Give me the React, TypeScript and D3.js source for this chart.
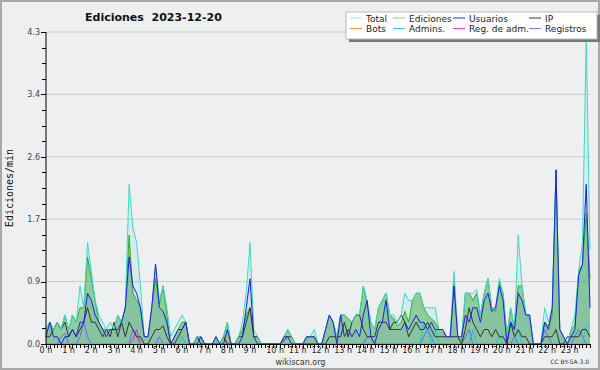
import React from "react";
import * as d3 from "d3";

// ---- data (10-minute bins, 0h .. 24h, edits per minute) ----
const hourLabels = ["0 h","1 h","2 h","3 h","4 h","5 h","6 h","7 h","8 h","9 h","10 h","11 h","12 h","13 h","14 h","15 h","16 h","17 h","18 h","19 h","20 h","21 h","22 h","23 h"];
const yTickLabels = ["0.0", "0.9", "1.7", "2.6", "3.4", "4.3"];
const yMax = 4.3;
const titleText = "Ediciones  2023-12-20";
const yAxisTitle = "Ediciones/min";

const total = [
  .2,.3,.2,.3,.2,.4,.2,.4,.3,.8,.5,1.4,
  1.0,.6,.4,.3,.2,.3,.2,.4,.3,.5,2.2,1.6,
  1.4,.8,.1,.1,.5,1.1,.6,.8,.5,.1,.2,.3,
  .4,.3,0,0,.1,.1,0,0,0,.1,0,.1,
  .3,0,0,.1,.3,.7,1.4,.2,.1,0,0,0,
  0,0,0,.1,.2,.1,0,0,0,.1,.1,.2,
  0,0,.2,.4,.3,.1,.4,.4,.35,.3,.4,.4,
  .8,.6,.3,.2,.5,.6,.7,.4,.4,.3,.4,.7,
  .6,.6,.7,.7,.5,.5,.5,.5,.2,.2,.1,.1,
  1.0,.1,.1,.7,.7,.7,.75,.4,.7,.9,.5,.5,
  .9,.7,.1,.5,.2,1.5,.8,.4,.4,0,0,0,
  .5,.3,.5,2.4,.2,.1,0,.2,.4,1.0,1.4,4.2,1.3,
];
const ediciones = [
  .2,.3,.2,.3,.2,.4,.2,.4,.3,.5,.5,1.2,
  .9,.6,.3,.2,.2,.2,.2,.4,.3,.5,1.5,.7,
  .6,.5,.1,.1,.5,.9,.55,.8,.4,0,.1,.2,
  .3,.3,0,0,.1,.1,0,0,0,.1,0,.1,
  .3,0,0,.1,.2,.4,.5,.1,.1,0,0,0,
  0,0,0,.1,.2,.1,0,0,0,.1,.1,.1,
  0,0,.2,.4,.3,.1,.4,.4,.35,.3,.4,.4,
  .8,.55,.3,.2,.5,.6,.7,.4,.35,.25,.3,.45,
  .3,.6,.7,.7,.5,.4,.35,.3,.2,.2,.1,.1,
  .9,.1,.05,.7,.7,.6,.7,.4,.7,.9,.5,.45,
  .85,.7,.1,.5,.2,.8,.8,.4,.4,0,0,0,
  .3,.25,.4,2.4,.2,.1,0,.2,.25,1.0,1.1,1.8,.9,
];
const usuarios = [
  .1,.3,.1,.1,0,.1,.1,.2,.1,.3,.3,.7,
  .6,.4,.3,.2,.1,.2,.2,.2,.3,.5,1.2,.8,
  .7,.5,.1,.1,.5,1.1,.5,.45,.3,0,.1,.2,
  .2,.3,0,0,0,.1,0,0,0,.1,0,0,
  .2,0,0,0,.1,.5,.9,.1,0,0,0,0,
  0,0,0,.1,.1,0,0,0,0,.1,.1,.1,
  0,0,.2,.4,.3,0,.4,.1,.2,.1,.2,.1,
  .4,.6,.1,0,.2,.3,.6,.2,.2,.2,.2,.3,
  .2,.3,.4,.3,.3,.2,.3,.2,.2,.2,.1,.1,
  .8,.1,.1,.4,.3,.5,.5,.3,.6,.7,.45,.5,
  .8,.6,0,.3,.2,.7,.6,.4,.4,0,0,0,
  .3,.2,.5,2.4,.2,.1,0,.1,.2,.95,1.1,2.2,.5,
];
const ip = [
  .1,.1,.2,.3,.2,.3,.1,.2,.1,.2,.3,.5,
  .3,.3,.2,.1,.2,.1,.3,.1,.3,.1,.3,.2,
  .1,.1,0,0,.1,.2,.2,.25,.1,0,0,.1,
  .2,.3,0,0,.1,0,0,0,0,0,0,.1,
  0,0,0,.1,.1,.3,.5,.1,.1,0,0,0,
  0,0,0,.05,.1,.1,0,0,0,0,0,0,
  0,0,0,.1,.1,.1,.1,.3,.1,.3,.4,.4,
  .2,.1,.1,.1,.3,.3,.3,.2,.3,.3,.4,.3,
  .1,.2,.3,.2,.2,.3,.2,.1,.1,.1,.1,.1,
  .1,.1,0,.2,.5,.3,.2,.1,.2,.2,.1,.2,
  .1,.1,0,.3,.1,.2,.1,.1,0,0,0,0,
  .1,.1,.1,.2,0,0,.1,.1,.1,.1,.2,.2,.1,
];
// sparse series: [bin, value]
const registrosPts: [number, number][] = [[4,.1],[5,.15],[9,.1],[10,.3],[11,.1],[23,.2],[24,.1],[30,.1],[85,.1],[86,.1],[100,.1],[101,.2],[102,.1],[111,.1],[112,.2],[124,.1],[132,.2],[133,.1],[140,.1],[141,.2],[142,.1]];
const adminsPts: [number, number][] = [[36,.1],[100,.3],[101,.2],[103,.2],[113,.2],[120,.1],[125,.2],[143,.25],[144,.25]];
const regAdmPts: [number, number][] = [[23,.05],[24,.2]];
const botsPts: [number, number][] = [[48,.1],[122,.05]];

const N = total.length;
const expand = (pts: [number, number][]) => {
  const a = new Array(N).fill(0);
  pts.forEach(([i, v]) => (a[i] = v));
  return a;
};

const legendItems = [
  { label: "Total", color: "#a8e4e2" },
  { label: "Ediciones", color: "#88cc88" },
  { label: "Usuarios", color: "#3333cc" },
  { label: "IP", color: "#333333" },
  { label: "Bots", color: "#ff9933" },
  { label: "Admins.", color: "#33ccdd" },
  { label: "Reg. de adm.", color: "#dd44dd" },
  { label: "Registros", color: "#7777ff" },
];

export default function App() {
  const W = 600, H = 370;
  const L = 46, R = 590, T = 32, B = 344;
  const x = d3.scaleLinear().domain([0, N - 1]).range([L, R]);
  const y = d3.scaleLinear().domain([0, yMax]).range([B, T]);
  const xh = d3.scaleLinear().domain([0, 24]).range([L, R]);

  const area = d3.area<number>().x((_, i) => x(i)).y0(B).y1((d) => y(d));
  const line = d3.line<number>().x((_, i) => x(i)).y((d) => y(d));

  const registros = expand(registrosPts);
  const admins = expand(adminsPts);
  const regAdm = expand(regAdmPts);
  const bots = expand(botsPts);

  const majorVals = yTickLabels.map((_, i) => (yMax * i) / (yTickLabels.length - 1));
  const minorVals: number[] = [];
  for (let i = 0; i < yTickLabels.length - 1; i++)
    for (let k = 1; k < 4; k++) minorVals.push(majorVals[i] + ((majorVals[i + 1] - majorVals[i]) * k) / 4);
  const xTickVals = d3.range(0, 24 * 6 + 1).map((i) => i / 6);

  const font = "'DejaVu Sans', Verdana, sans-serif";
  const colsX = [350, 393, 453, 529];
  const rowsY = [18, 28.5];

  return (
    <svg width={W} height={H} style={{ position: "fixed", left: 0, top: 0 }} fontFamily={font}>
      <rect x={0} y={0} width={W} height={H} fill="#eeeff0" />
      <rect x={1} y={1} width={W - 2} height={H - 2} fill="none" stroke="#a8a8a8" strokeWidth={2} />

      {/* grid */}
      {majorVals.slice(1).map((v, i) => (
        <line key={i} x1={L} x2={R} y1={y(v)} y2={y(v)} stroke="#cccccc" strokeWidth={1} />
      ))}

      {/* series */}
      <path d={area(total) || ""} fill="rgba(64,224,208,0.15)" />
      <path d={area(ediciones) || ""} fill="rgba(60,170,60,0.45)" />
      <path d={area(usuarios) || ""} fill="rgba(40,40,220,0.06)" />
      <path d={line(registros) || ""} fill="none" stroke="#6666ff" strokeWidth={1} />
      <path d={line(regAdm) || ""} fill="none" stroke="#cc33cc" strokeWidth={1} />
      <path d={line(bots) || ""} fill="none" stroke="#ff9933" strokeWidth={1} />
      <path d={line(admins) || ""} fill="none" stroke="#22c4dd" strokeWidth={1} />
      <path d={line(ediciones) || ""} fill="none" stroke="#33aa33" strokeWidth={1} />
      <path d={line(ip) || ""} fill="none" stroke="#333333" strokeWidth={1} />
      <path d={line(total) || ""} fill="none" stroke="#40d8c8" strokeWidth={1} />
      <path d={line(usuarios) || ""} fill="none" stroke="#1f1fdd" strokeWidth={1} />

      {/* axes */}
      <line x1={L} x2={L} y1={T} y2={B} stroke="#000" strokeWidth={1} />
      <line x1={L} x2={R} y1={B + 0.5} y2={B + 0.5} stroke="#000" strokeWidth={1} />
      {majorVals.map((v, i) => (
        <g key={"ym" + i}>
          <line x1={L - 5} x2={L} y1={Math.round(y(v)) + 0.5} y2={Math.round(y(v)) + 0.5} stroke="#000" />
          <text x={L - 6} y={y(v)} dy="0.35em" textAnchor="end" fontSize={8} fill="#444">{yTickLabels[i]}</text>
        </g>
      ))}
      {minorVals.map((v, i) => (
        <line key={"yn" + i} x1={L - 4} x2={L} y1={Math.round(y(v)) + 0.5} y2={Math.round(y(v)) + 0.5} stroke="#000" />
      ))}
      {xTickVals.map((v, i) => (
        <line key={"xt" + i} x1={Math.round(xh(v)) + 0.5} x2={Math.round(xh(v)) + 0.5} y1={B} y2={B + 4} stroke="#000" />
      ))}
      {hourLabels.map((lab, i) => (
        <text key={"xl" + i} x={xh(i) - 6.5} y={353} fontSize={8} fill="#222" style={{ whiteSpace: "pre" }}>{lab}</text>
      ))}

      {/* titles */}
      <text x={85} y={21} fontSize={11} fontWeight="bold" fill="#111" style={{ whiteSpace: "pre" }}>{titleText}</text>
      <text transform={`translate(13,188) rotate(-90)`} textAnchor="middle" fontSize={10} fontFamily="'DejaVu Sans Mono', monospace" fill="#111">{yAxisTitle}</text>
      <text x={300.5} y={365} textAnchor="middle" fontSize={8} fill="#333">wikiscan.org</text>
      <text x={589} y={364} textAnchor="end" fontSize={6} fill="#333">CC BY-SA 3.0</text>

      {/* legend */}
      <rect x={349} y={15} width={251} height={27} fill="#777" />
      <rect x={346} y={12} width={251} height={27} fill="#ffffff" stroke="#bbbbbb" strokeWidth={1} />
      {legendItems.map((it, i) => {
        const cx = colsX[i % 4];
        const cy = rowsY[Math.floor(i / 4)];
        return (
          <g key={"lg" + i}>
            <line x1={cx} x2={cx + 12} y1={cy} y2={cy} stroke={it.color} strokeWidth={1} />
            <text x={cx + 16} y={cy + 3.5} fontSize={9} fill="#222">{it.label}</text>
          </g>
        );
      })}
    </svg>
  );
}
